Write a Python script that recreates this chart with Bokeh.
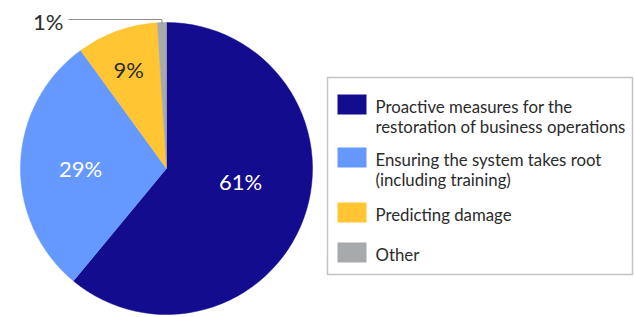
import numpy as np
from bokeh.plotting import figure
from bokeh.models import ColumnDataSource, Range1d
from bokeh.core.properties import value
from bokeh.embed import file_html
from bokeh.resources import INLINE

# ---- data ----
categories = [
    ["Proactive measures for the", "restoration of business operations"],
    ["Ensuring the system takes root", "(including training)"],
    ["Predicting damage"],
    ["Other"],
]
shares = [61, 29, 9, 1]
pct_labels = ["61%", "29%", "9%", "1%"]
colors = ["#140c8f", "#6699ff", "#ffc533", "#a7aaad"]

# ---- layout / style ----
FONT = "Lato"
TEXT_DARK = "#2b2b2b"
W, H = 634, 317


def Y(y):
    # screen-pixel y (from top) -> data y
    return H - y


p = figure(width=W, height=H, x_range=Range1d(0, W), y_range=Range1d(0, H),
           output_backend="svg", toolbar_location=None, title=None, min_border=0)
p.axis.visible = False
p.grid.visible = False
p.outline_line_color = None
p.background_fill_color = "white"
p.border_fill_color = "white"

cx, cy, R = 166, 168, 146
vals = np.array(shares, dtype=float)
frac = vals / vals.sum()
cum = np.concatenate([[0.0], np.cumsum(frac)])
cw_start = cum[:-1] * 2 * np.pi          # clockwise from 12 o'clock
cw_end = cum[1:] * 2 * np.pi
src = ColumnDataSource(dict(
    start=np.pi / 2 - cw_end,
    end=np.pi / 2 - cw_start,
    color=colors,
))
p.wedge(x=cx, y=Y(cy), radius=R, start_angle="start", end_angle="end",
        fill_color="color", line_color="color", line_width=0.5, source=src)

# inside percentage labels
mid = (cw_start + cw_end) / 2
nudge_deg = [-7.0, -4.5, -2.0]
label_r = [76, 86, 102]
label_colors = ["white", "white", TEXT_DARK]
text_lift = 4
lx, ly = [], []
for i in range(3):
    th = mid[i] + np.deg2rad(nudge_deg[i])
    lx.append(cx + label_r[i] * np.sin(th))
    ly.append(Y(cy - label_r[i] * np.cos(th) - text_lift))
p.text(x=lx, y=ly, text=pct_labels[:3], text_color=label_colors,
       text_font=value(FONT), text_font_size="22px",
       text_align="center", text_baseline="middle")

# outside label for the small slice with leader line
th = mid[3]
rim_x = cx + R * np.sin(th)
rim_y = cy - R * np.cos(th)
elbow_y = 19
end_x = 68
p.line(x=[rim_x, rim_x, end_x], y=[Y(rim_y + 2), Y(elbow_y), Y(elbow_y)],
       line_color="#8c8c8c", line_width=1)
p.text(x=[end_x - 5], y=[Y(elbow_y + 2)], text=[pct_labels[3]],
       text_color=TEXT_DARK, text_font=value(FONT), text_font_size="22px",
       text_align="right", text_baseline="middle")

# legend box
box_l, box_r, box_t, box_b = 327, 632, 77, 274
p.quad(left=[box_l], right=[box_r], top=[Y(box_t)], bottom=[Y(box_b)],
       fill_color=None, line_color="#c4c4c4", line_width=1.5)

legend_tops = [94, 147, 202, 242]
sw_l, sw_w, sw_h = 337, 29, 20
text_x = 375
line_gap = 20.5
p.quad(left=[sw_l] * 4, right=[sw_l + sw_w] * 4,
       top=[Y(t) for t in legend_tops], bottom=[Y(t + sw_h) for t in legend_tops],
       fill_color=colors, line_color=None)

tx, ty, tt = [], [], []
for top, lines in zip(legend_tops, categories):
    for j, ln in enumerate(lines):
        tx.append(text_x)
        ty.append(Y(top + 11.5 + j * line_gap))
        tt.append(ln)
p.text(x=tx, y=ty, text=tt, text_color=TEXT_DARK, text_font=value(FONT),
       text_font_size="16.8px", text_align="left", text_baseline="alphabetic")

open("out.html", "w").write(file_html(p, INLINE))
